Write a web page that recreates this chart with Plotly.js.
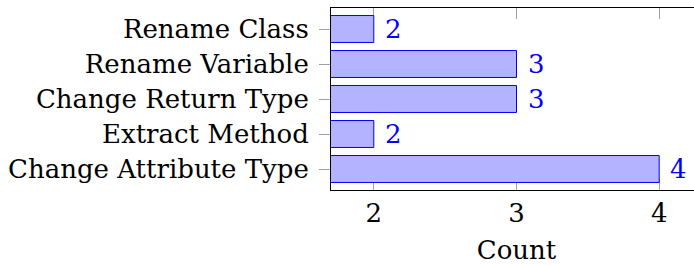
<!DOCTYPE html>
<html>
<head>
<meta charset="utf-8">
<script src="https://cdn.plot.ly/plotly-3.0.1.min.js"></script>
<style>
html,body{margin:0;padding:0;overflow:hidden;background:#fff;}
#chart{width:710px;height:265px;}
</style>
</head>
<body>
<div id="chart"></div>
<script>
// Data (bottom to top)
var categories = ["Change Attribute Type", "Extract Method", "Change Return Type", "Rename Variable", "Rename Class"];
var counts = [4, 2, 3, 3, 2];
var xTickValues = [2, 3, 4];
var xTickLabels = ["2", "3", "4"];

var FONT = "DejaVu Serif";
var FS = 26;

var trace = {
  type: "bar",
  orientation: "h",
  y: categories,
  x: counts,
  width: 0.77,
  marker: {color: "#b3b3ff", line: {color: "#0000ff", width: 1}},
  hoverinfo: "none"
};

var annotations = categories.map(function (c, i) {
  return {
    x: counts[i], y: c, xref: "x", yref: "y",
    text: String(counts[i]), showarrow: false,
    xanchor: "left", yanchor: "middle", xshift: 9,
    font: {family: FONT, size: FS, color: "#0000ff"}
  };
});

var layout = {
  width: 710, height: 265,
  margin: {l: 330.5, r: 8, t: 7.5, b: 75},
  paper_bgcolor: "#fff", plot_bgcolor: "#fff",
  showlegend: false,
  font: {family: FONT, size: FS, color: "#000"},
  xaxis: {
    range: [1.7, 4.3],
    tickvals: xTickValues, ticktext: xTickLabels,
    ticks: "inside", ticklen: 11, tickcolor: "#a0a0a0", tickwidth: 1,
    showline: true, linecolor: "#000", linewidth: 1, mirror: "ticks",
    showgrid: false, zeroline: false,
    layer: "below traces",
    ticklabelstandoff: 0,
    title: {text: "Count", standoff: 22, font: {family: FONT, size: FS}}
  },
  yaxis: {
    type: "category",
    range: [-0.6, 4.6],
    ticks: "outside", ticklen: 11, tickcolor: "#a0a0a0", tickwidth: 1,
    showline: true, linecolor: "#000", linewidth: 1,
    showgrid: false, zeroline: false,
    ticklabelstandoff: 5
  },
  annotations: annotations
};

Plotly.newPlot("chart", [trace], layout, {staticPlot: true, displayModeBar: false});
</script>
</body>
</html>
